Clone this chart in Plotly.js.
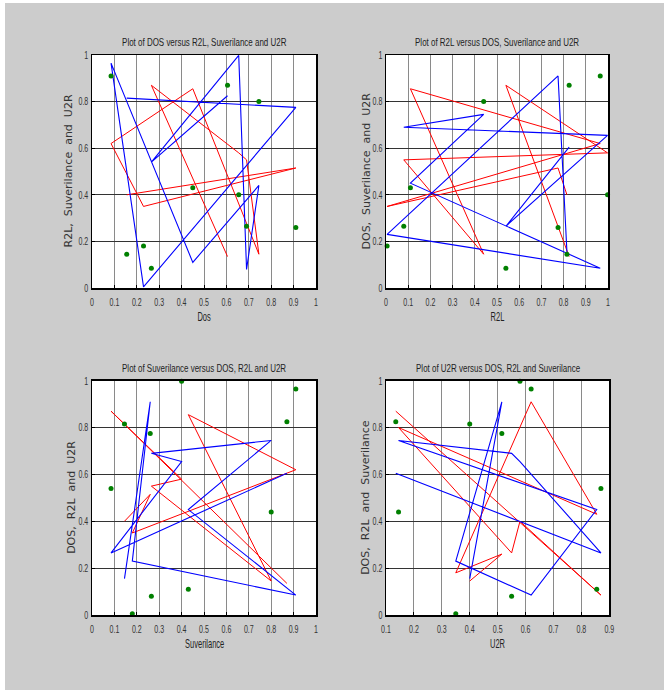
<!DOCTYPE html>
<html>
<head>
<meta charset="utf-8">
<script src="https://cdn.plot.ly/plotly-3.0.1.min.js"></script>
<style>
  html, body { margin: 0; padding: 0; background: #ffffff; }
  #chart { position: absolute; left: 5px; top: 3px; width: 659px; height: 687px; }
</style>
</head>
<body>
<div id="chart"></div>
<script>
const DOS = [0.155, 0.91, 0.23, 0.085, 0.45, 0.745, 0.69, 0.655, 0.265, 0.605];
const R2L = [0.815, 0.775, 0.005, 0.965, 0.11, 0.44, 0.08, 0.998, 0.54, 0.825];
const SUR = [0.145, 0.26, 0.18, 0.91, 0.43, 0.80, 0.265, 0.40, 0.085, 0.87];
const U2R = [0.40, 0.515, 0.35, 0.62, 0.855, 0.145, 0.55, 0.58, 0.87, 0.135];

const titles = [
  'Plot of DOS versus R2L, Suverilance and U2R',
  'Plot of R2L versus DOS, Suverilance and U2R',
  'Plot of Suverilance versus DOS, R2L and U2R',
  'Plot of U2R versus DOS, R2L and Suverilance'
];
const xTitles = ['Dos', 'R2L', 'Suverilance', 'U2R'];
const yTitles = ['R2L,  Suverilance  and  U2R', 'DOS,  Suverilance  and  U2R',
                 'DOS,  R2L  and  U2R', 'DOS,  R2L  and  Suverilance'];

// per panel: x variable, blue series, red series, green dots
const panels = [
  {x: DOS, blue: R2L, red: U2R, green: SUR},
  {x: R2L, blue: DOS, red: U2R, green: SUR},
  {x: SUR, blue: DOS, red: U2R, green: R2L},
  {x: U2R, blue: DOS, red: SUR, green: R2L}
];

const W = 659, H = 687;
const boxes = [ // pixel boxes in the div: [left, right, top, bottom]
  [87, 311, 52, 285],
  [381, 603, 52, 285],
  [87, 311, 377.7, 612],
  [381, 604.3, 377.7, 612]
];
const xRanges = [[0, 1], [0, 1], [0, 1], [0.1, 0.9]];
const yTitleOff = [-24, -20, -20, -20];

const SANS = '"Liberation Sans", Arial, sans-serif';
const traces = [];
const layout = {
  width: W, height: H,
  margin: {l: 0, r: 0, t: 0, b: 0},
  paper_bgcolor: '#cccccc',
  plot_bgcolor: '#ffffff',
  showlegend: false,
  annotations: []
};

panels.forEach((p, i) => {
  const n = i + 1;
  const xa = 'x' + (n === 1 ? '' : n), ya = 'y' + (n === 1 ? '' : n);
  const xk = 'xaxis' + (n === 1 ? '' : n), yk = 'yaxis' + (n === 1 ? '' : n);
  const b = boxes[i];
  traces.push({x: p.x, y: p.red, xaxis: xa, yaxis: ya, mode: 'lines', type: 'scatter',
               line: {color: '#ff0000', width: 1}, hoverinfo: 'skip'});
  traces.push({x: p.x, y: p.blue, xaxis: xa, yaxis: ya, mode: 'lines', type: 'scatter',
               line: {color: '#0000ff', width: 1.1}, hoverinfo: 'skip'});
  traces.push({x: p.x, y: p.green, xaxis: xa, yaxis: ya, mode: 'markers', type: 'scatter',
               marker: {color: '#008000', size: 5}, cliponaxis: false, hoverinfo: 'skip'});
  const common = {
    showline: true, mirror: true, linecolor: '#000000', linewidth: 1.5,
    ticks: 'inside', ticklen: 3, tickcolor: '#000000',
    zeroline: false, fixedrange: true,
    tickfont: {family: SANS, size: 11, color: '#333333'}
  };
  layout[xk] = Object.assign({}, common, {
    domain: [b[0] / W, b[1] / W], anchor: ya,
    range: xRanges[i], tick0: xRanges[i][0], dtick: 0.1,
    showgrid: true, gridcolor: '#8a8a8a', gridwidth: 1,
    ticklabelstandoff: 3
  });
  layout[yk] = Object.assign({}, common, {
    domain: [1 - b[3] / H, 1 - b[2] / H], anchor: xa,
    range: [0, 1], tick0: 0, dtick: 0.2,
    showgrid: true, gridcolor: '#333333', gridwidth: 1
  });
  layout.annotations.push({
    text: titles[i], xref: xa + ' domain', yref: ya + ' domain',
    x: 0.5, y: 1, yanchor: 'middle', xanchor: 'center', yshift: 13, showarrow: false,
    font: {family: SANS, size: 10.5, color: '#222222'}
  });
  layout.annotations.push({
    text: xTitles[i], xref: xa + ' domain', yref: ya + ' domain',
    x: 0.5, y: 0, yanchor: 'middle', xanchor: 'center', yshift: -29, showarrow: false,
    font: {family: SANS, size: 12.5, color: '#222222'}
  });
  layout.annotations.push({
    text: yTitles[i], xref: xa + ' domain', yref: ya + ' domain',
    x: 0, y: 0.5, xanchor: 'center', yanchor: 'middle', xshift: yTitleOff[i], textangle: -90,
    showarrow: false,
    font: {family: '"DejaVu Sans", sans-serif', size: 11, color: '#333333'}
  });
});

// squeeze text horizontally around its anchor point (the picture uses a narrow face)
function squeeze(el, s) {
  const X = parseFloat(el.getAttribute('x') || '0') || 0;
  const tr = el.getAttribute('transform') || '';
  let tx = 0, ty = 0;
  const m = tr.match(/translate\(\s*([-\d.eE]+)[\s,]*([-\d.eE]*)\s*\)/);
  if (m) { tx = parseFloat(m[1]) || 0; ty = parseFloat(m[2]) || 0; }
  el.setAttribute('transform', 'translate(' + (tx + X * (1 - s)) + ',' + ty + ') scale(' + s + ',1)');
}

Plotly.newPlot('chart', traces, layout, {staticPlot: true, displayModeBar: false}).then(gd => {
  gd.querySelectorAll('g.xaxislayer-above text, g.yaxislayer-above text').forEach(t => squeeze(t, 0.64));
  const ann = gd.querySelectorAll('text.annotation-text');
  ann.forEach((t, k) => {
    if (k % 3 === 0) squeeze(t, 0.76);
    else if (k % 3 === 1) squeeze(t, 0.6);
  });
});
</script>
</body>
</html>
